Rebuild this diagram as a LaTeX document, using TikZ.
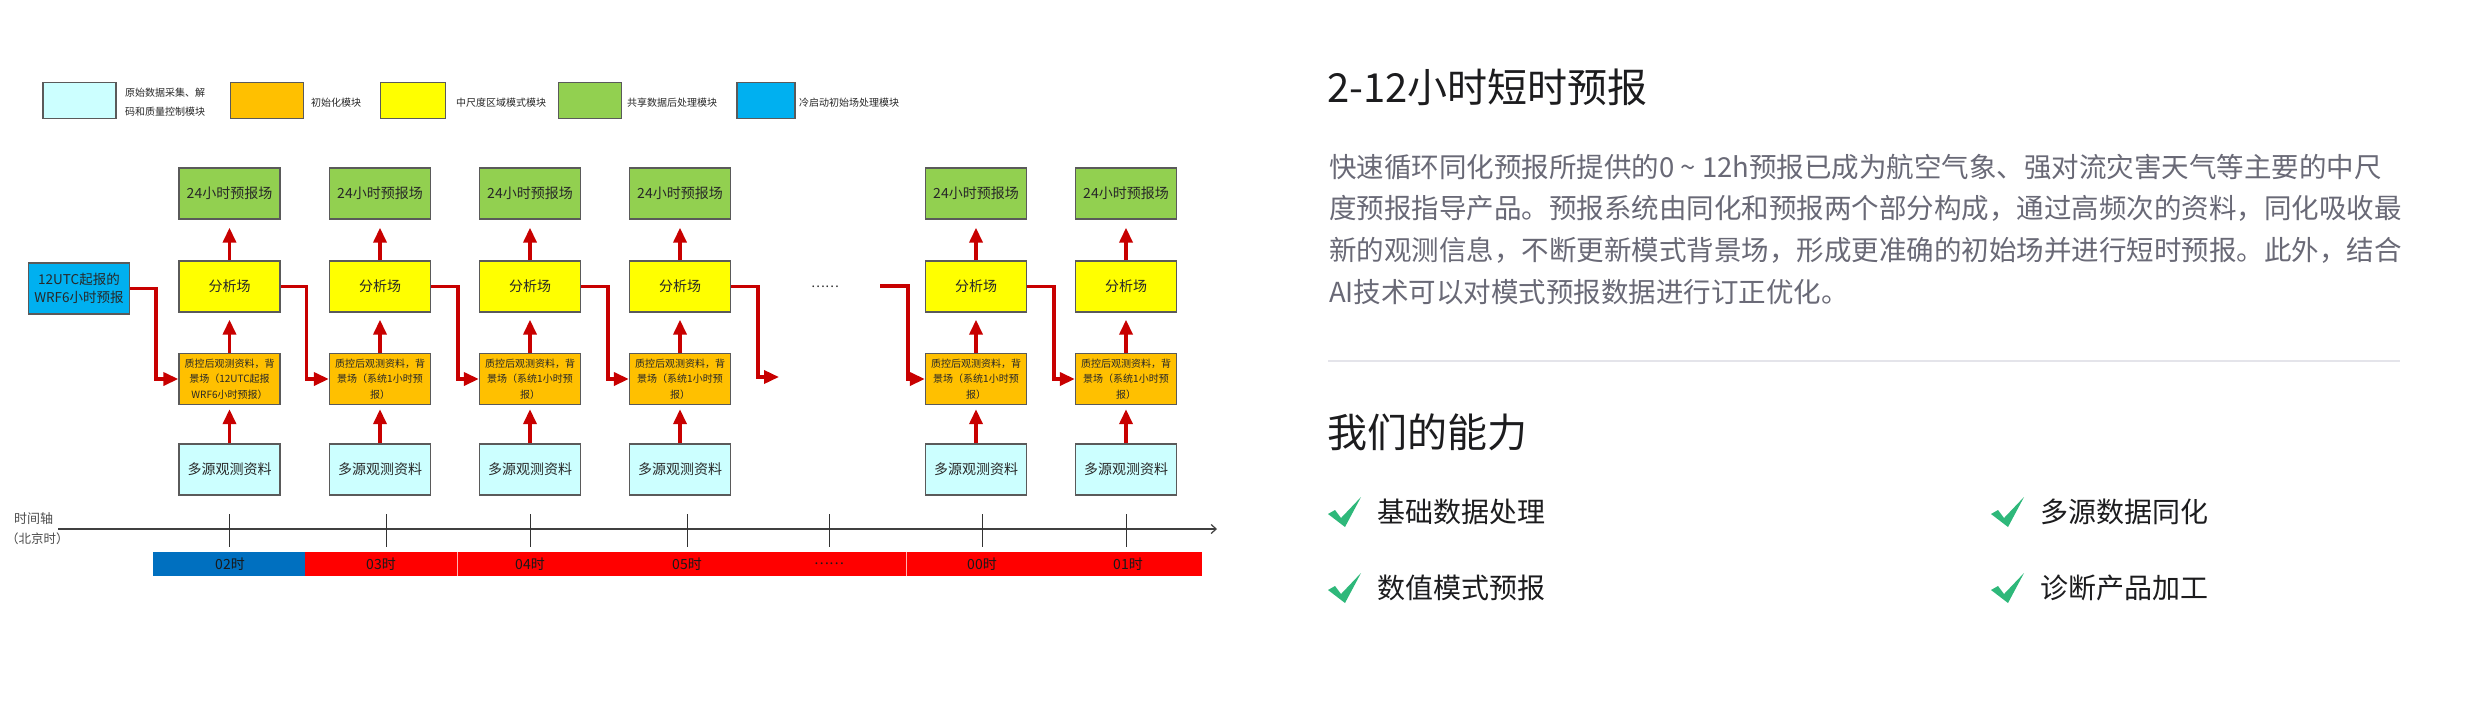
\documentclass[tikz,border=0pt]{standalone}
\usepackage{fontspec}
\setmainfont{Noto Sans CJK SC}
\usetikzlibrary{arrows.meta}
\definecolor{cgreen}{RGB}{146,208,80}
\definecolor{cyellow}{RGB}{255,255,0}
\definecolor{corange}{RGB}{255,192,0}
\definecolor{ccyan}{RGB}{204,255,255}
\definecolor{cazure}{RGB}{0,176,240}
\definecolor{cblue}{RGB}{0,112,192}
\definecolor{cbar}{RGB}{255,0,0}
\definecolor{cred}{RGB}{200,0,0}
\definecolor{bord}{RGB}{90,90,90}
\definecolor{txt}{RGB}{40,40,40}
\definecolor{body}{RGB}{105,105,118}
\definecolor{head}{RGB}{28,28,30}
\definecolor{sep}{RGB}{228,228,234}
\definecolor{ccheck}{RGB}{46,184,122}
\newcommand\myfs[2]{\fontsize{#1}{#2}\selectfont}
\begin{document}
\begin{tikzpicture}[x=1pt,y=-1pt,
  box/.style={draw=bord, line width=1.3pt, minimum width=101pt, minimum height=51pt, inner sep=0pt, align=center, text=txt},
  gbox/.style={box, fill=cgreen, font=\myfs{14}{16}},
  ybox/.style={box, fill=cyellow, font=\myfs{14}{16}},
  obox/.style={box, fill=corange, font=\myfs{10}{15.5}},
  cbox/.style={box, fill=ccyan, font=\myfs{14}{16}},
  wbox/.style={box, fill=cazure, font=\myfs{13.5}{18}},
  lgbox/.style={draw=bord, line width=1.2pt, minimum height=36pt, inner sep=0pt},
  lgtext/.style={anchor=west, inner sep=0pt, font=\myfs{10}{19}, text=txt, align=left},
  arr/.style={draw=cred, line width=3.5pt, line join=miter, -{Triangle[length=15pt,width=13pt]}},
  axis/.style={draw=black!75, line width=1.2pt, -{Straight Barb[length=5pt,width=9pt]}},
  tick/.style={draw=black!80, line width=1pt},
  seglab/.style={font=\myfs{14}{14}, text=black!90, inner sep=0pt},
  bodyline/.style={anchor=west, inner sep=0pt, font=\myfs{27.5}{27.5}, text=body},
  headline/.style={anchor=west, inner sep=0pt, font=\myfs{40}{40}, text=head},
  item/.style={anchor=west, inner sep=0pt, font=\myfs{28}{28}, text=head},
  checkmark/.style={fill=ccheck}
]
\path[use as bounding box, fill=white] (0,0) rectangle (2480,702);

% ---------- legend ----------
\node[lgbox, fill=ccyan, minimum width=73pt] (l1) at (79.5,100.5) {};
\node[lgtext] (l1t) at (125,102.5) {原始数据采集、解\\码和质量控制模块};
\node[lgbox, fill=corange, minimum width=73pt] (l2) at (267,100.5) {};
\node[lgtext] (l2t) at (311,102.5) {初始化模块};
\node[lgbox, fill=cyellow, minimum width=65pt] (l3) at (413,100.5) {};
\node[lgtext] (l3t) at (456,102.5) {中尺度区域模式模块};
\node[lgbox, fill=cgreen, minimum width=63pt] (l4) at (590,100.5) {};
\node[lgtext] (l4t) at (627,102.5) {共享数据后处理模块};
\node[lgbox, fill=cazure, minimum width=58pt] (l5) at (766,100.5) {};
\node[lgtext] (l5t) at (799,102.5) {冷启动初始场处理模块};

% ---------- WRF box ----------
\node[wbox] (w) at (79,288.5) {12UTC起报的\\WRF6小时预报};

% ---------- columns ----------
\foreach \i/\x in {1/229.5,2/380,3/530,4/680,5/976,6/1126}{
  \node[gbox] (g\i) at (\x,193.5) {24小时预报场};
  \node[ybox] (y\i) at (\x,286.5) {分析场};
  \node[cbox] (c\i) at (\x,469.5) {多源观测资料};
}
\node[obox] (o1) at (229.5,379) {质控后观测资料，背\\景场（12UTC起报\\WRF6小时预报）};
\foreach \i/\x in {2/380,3/530,4/680,5/976,6/1126}{
  \node[obox] (o\i) at (\x,379) {质控后观测资料，背\\景场（系统1小时预\\报）};
}
\foreach \i in {1,...,6}{
  \draw[arr] (c\i.north) -- ([yshift=-4pt]o\i.south);
  \draw[arr] (o\i.north) -- ([yshift=-7pt]y\i.south);
  \draw[arr] (y\i.north) -- ([yshift=-8pt]g\i.south);
}

% ---------- horizontal connectors ----------
\draw[arr] (w.east) -- ++(26,0) |- (o1.west);
\draw[arr] (y1.east) -- ++(26,0) |- (o2.west);
\draw[arr] (y2.east) -- ++(27,0) |- (o3.west);
\draw[arr] (y3.east) -- ++(27,0) |- (o4.west);
\coordinate (d1) at (779,377);
\draw[arr] (y4.east) -- ++(27,0) |- (d1);
\coordinate (d2) at (880,286);
\draw[arr] (d2) -- ++(28,0) |- (o5.west);
\draw[arr] (y5.east) -- ++(27,0) |- (o6.west);
\node[font=\myfs{13}{13}, text=txt, inner sep=0pt] (dots) at (825,287) {……};

% ---------- time axis ----------
\node[anchor=west, inner sep=0pt, font=\myfs{13}{13}, text=black!70] (tl1) at (14,519) {时间轴};
\node[anchor=west, inner sep=0pt, font=\myfs{12.5}{13}, text=black!70] (tl2) at (6,539) {（北京时）};
\coordinate (ax0) at (58,529);
\coordinate (ax1) at (1217,529);
\draw[axis] (ax0) -- (ax1);
\foreach \x in {229,386,530,687,829,982,1126}{
  \draw[tick] (\x,514) -- (\x,547);
}

% ---------- colour bar ----------
\fill[cblue] (153,552) rectangle (305,576);
\fill[cbar] (305,552) rectangle (1202,576);
\draw[white!70!red, line width=0.6pt] (457,552) -- (457,576);
\draw[white!70!red, line width=0.6pt] (906,552) -- (906,576);
\node[seglab] (s1) at (230,564) {02时};
\node[seglab] (s2) at (381,564) {03时};
\node[seglab] (s3) at (530,564) {04时};
\node[seglab] (s4) at (687,564) {05时};
\node[seglab] (s5) at (829,564) {……};
\node[seglab] (s6) at (982,564) {00时};
\node[seglab] (s7) at (1128,564) {01时};

% ---------- right panel ----------
\node[headline] (title) at (1327,87) {2-12小时短时预报};
\node[bodyline] (b1) at (1329,167) {快速循环同化预报所提供的0 \textasciitilde{} 12h预报已成为航空气象、强对流灾害天气等主要的中尺};
\node[bodyline] (b2) at (1329,208) {度预报指导产品。预报系统由同化和预报两个部分构成，通过高频次的资料，同化吸收最};
\node[bodyline] (b3) at (1329,250) {新的观测信息，不断更新模式背景场，形成更准确的初始场并进行短时预报。此外，结合};
\node[bodyline] (b4) at (1329,292) {AI技术可以对模式预报数据进行订正优化。};
\draw[sep, line width=2pt] (1328,361) -- (2400,361);
\node[headline] (cap) at (1327,432) {我们的能力};

\foreach \cx/\cy in {1328/497,1991/497,1328/573,1991/573}{
  \fill[checkmark] (\cx,\cy+17) -- (\cx+7,\cy+13) -- (\cx+13,\cy+21) -- (\cx+33,\cy) -- (\cx+17,\cy+30) -- cycle;
}
\node[item] (i1) at (1377,512) {基础数据处理};
\node[item] (i2) at (2040,512) {多源数据同化};
\node[item] (i3) at (1377,588) {数值模式预报};
\node[item] (i4) at (2040,588) {诊断产品加工};
\end{tikzpicture}
\end{document}
